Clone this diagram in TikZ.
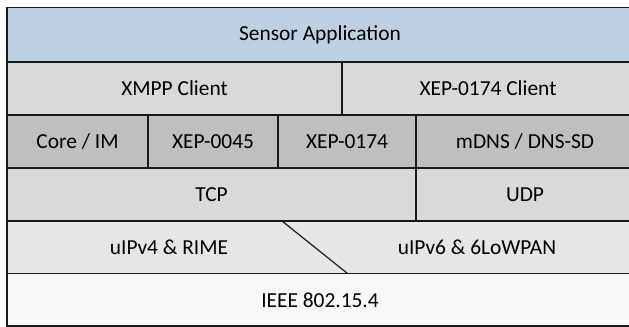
\documentclass[tikz,border=0pt]{standalone}
\usepackage{fontspec}
\setmainfont{Carlito}
\definecolor{appblue}{RGB}{191,208,226}
\definecolor{midgray}{RGB}{217,217,217}
\definecolor{darkgray}{RGB}{191,191,191}
\definecolor{netgray}{RGB}{230,230,230}
\definecolor{phygray}{RGB}{248,248,248}
\definecolor{edge}{RGB}{26,26,26}
\begin{document}
\begin{tikzpicture}[x=0.5pt,y=-0.5pt,
  cell/.style={draw=edge, line width=0.75pt, inner sep=0pt, outer sep=0pt,
    anchor=north west, align=center},
  label/.style={inner sep=0pt, font=\fontsize{10.7}{12}\selectfont}]
\useasboundingbox (0,0) rectangle (629,327);
% layer stack, coordinates in pixels; the right edge runs past the page
\node[cell, fill=appblue, minimum width=320pt, minimum height=27.25pt] (app) at (7,7.5) {};
\node[label] (appT) at (320,35) {Sensor Application};
% clients
\node[cell, fill=midgray, minimum width=167.5pt, minimum height=26.5pt] (xmppc) at (7,62) {};
\node[label] at (174.5,88.5) (xmppcT) {XMPP Client};
\node[cell, fill=midgray, minimum width=152.5pt, minimum height=26.5pt] (xepc) at (342,62) {};
\node[label] at (488,88.5) (xepcT) {XEP-0174 Client};
% protocols
\node[cell, fill=darkgray, minimum width=70.5pt, minimum height=26.5pt] (core) at (7,115) {};
\node[label] at (77.5,141.5) (coreT) {Core / IM};
\node[cell, fill=darkgray, minimum width=65pt, minimum height=26.5pt] (x45) at (148,115) {};
\node[label] at (213,141.5) (x45T) {XEP-0045};
\node[cell, fill=darkgray, minimum width=69pt, minimum height=26.5pt] (x174) at (278,115) {};
\node[label] at (347,141.5) (x174T) {XEP-0174};
\node[cell, fill=darkgray, minimum width=115.5pt, minimum height=26.5pt] (mdns) at (416,115) {};
\node[label] at (525,141.5) (mdnsT) {mDNS / DNS-SD};
% transport
\node[cell, fill=midgray, minimum width=204.5pt, minimum height=26.5pt] (tcp) at (7,168) {};
\node[label] at (211.5,194.5) (tcpT) {TCP};
\node[cell, fill=midgray, minimum width=115.5pt, minimum height=26.5pt] (udp) at (416,168) {};
\node[label] at (525,194.5) (udpT) {UDP};
% network
\node[cell, fill=netgray, minimum width=320pt, minimum height=26.25pt] (net) at (7,221) {};
\coordinate (splitA) at (282,221);
\coordinate (splitB) at (347.5,273.5);
\draw[draw=edge, line width=0.6pt] (splitA) -- (splitB);
\node[label] at (169,247.5) (v4T) {uIPv4 \& RIME};
\node[label] at (477,247.5) (v6T) {uIPv6 \& 6LoWPAN};
% link
\node[cell, fill=phygray, minimum width=320pt, minimum height=26.25pt] (phy) at (7,273.5) {};
\node[label] at (320,300) (phyT) {IEEE 802.15.4};
\end{tikzpicture}
\end{document}
